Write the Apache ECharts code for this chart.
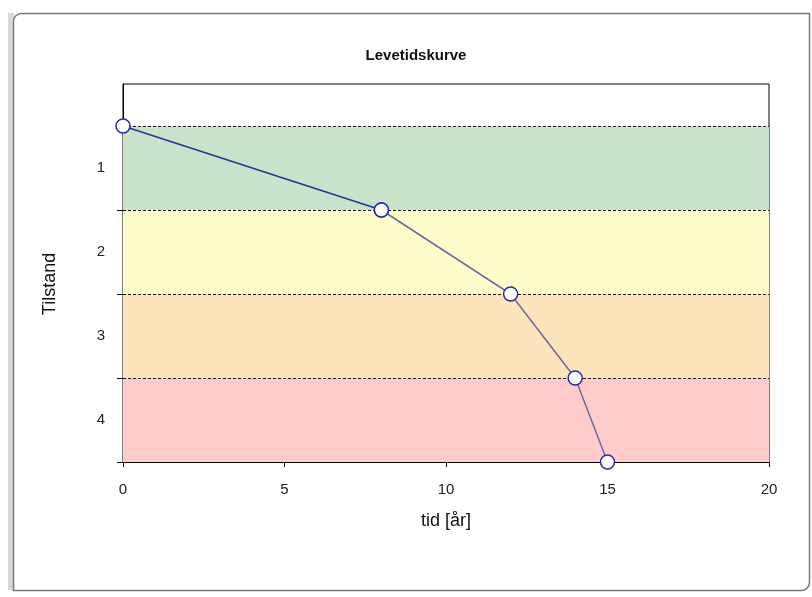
<!DOCTYPE html>
<html><head><meta charset="utf-8">
<script src="https://cdn.jsdelivr.net/npm/echarts@6/dist/echarts.min.js"></script>
<style>html,body{margin:0;padding:0;background:#fff}#c{width:812px;height:597px}</style>
</head><body><div id="c"></div>
<script>
const title = 'Levetidskurve';
const xName = 'tid [år]';
const yName = 'Tilstand';
const years = [0, 8, 12, 14, 15];
const condition = [0.5, 1.5, 2.5, 3.5, 4.5];
const stateLabels = [1, 2, 3, 4];
const bandEdges = [0.5, 1.5, 2.5, 3.5, 4.5];
const bandColors = ['#c9e3cc', '#fffccc', '#fde4bc', '#ffcccc'];
const xTicks = [0, 5, 10, 15, 20];

const pts = years.map((x, i) => [x, condition[i]]);
const seg1 = pts.slice(0, 2);
const seg2 = pts.slice(1);

const markAreaData = stateLabels.map((s, i) => [
  { yAxis: bandEdges[i], itemStyle: { color: bandColors[i] } },
  { yAxis: bandEdges[i + 1] }
]);
const markLineData = bandEdges.slice(0, 4).map(v => ({ yAxis: v }));

const chart = echarts.init(document.getElementById('c'), null, { renderer: 'canvas' });
const font = 'Liberation Sans, Arial, sans-serif';
const symStyle = { color: '#ffffff', borderColor: '#2b2b9c', borderWidth: 1.5 };
chart.setOption({
  animation: false,
  backgroundColor: '#ffffff',
  textStyle: { fontFamily: font },
  title: { text: title, left: 411, top: 43, textAlign: 'center',
    textStyle: { fontSize: 15, fontWeight: 'bold', color: '#111', fontFamily: font } },
  graphic: [
    { type: 'rect', shape: { x: 8, y: 13, width: 6, height: 577 }, style: { fill: '#d8d8d8' }, z: -10 },
    { type: 'rect', shape: { x: 13.5, y: 13.5, width: 796, height: 577, r: [8, 0, 8, 0] },
      style: { fill: 'none', stroke: '#7a7a7a', lineWidth: 1.5 }, z: -5 }
  ],
  grid: { left: 123, right: 43, top: 84, bottom: 135, show: true, borderColor: '#000', borderWidth: 1, backgroundColor: 'transparent' },
  xAxis: {
    type: 'value', min: 0, max: 20, interval: 5,
    name: xName, nameLocation: 'middle', nameGap: 50,
    nameTextStyle: { fontSize: 18, color: '#111', fontFamily: font },
    axisLine: { show: true, onZero: false, lineStyle: { color: '#000', width: 1 } },
    axisTick: { show: true, inside: false, length: 5, lineStyle: { color: '#000' } },
    axisLabel: { fontSize: 15, color: '#222', margin: 20, fontFamily: font },
    splitLine: { show: false }
  },
  yAxis: {
    type: 'value', min: 0, max: 4.5, inverse: true,
    name: yName, nameLocation: 'middle', nameRotate: 90, nameGap: 64,
    nameTextStyle: { fontSize: 18, color: '#111', fontFamily: font, padding: [0, 22, 0, 0] },
    axisLine: { show: true, onZero: false, lineStyle: { color: '#000', width: 1 } },
    axisTick: { show: true, length: 6, customValues: bandEdges.slice(1), lineStyle: { color: '#000' } },
    axisLabel: { fontSize: 15, color: '#222', margin: 18, customValues: stateLabels, fontFamily: font },
    splitLine: { show: false }
  },
  series: [
    {
      type: 'line', data: [], z: 1, silent: true,
      markArea: { silent: true, data: markAreaData },
      markLine: { silent: true, symbol: 'none', label: { show: false },
        lineStyle: { color: '#111', type: [3, 2], width: 1 }, data: markLineData }
    },
    {
      type: 'line', data: seg1, symbol: 'circle', symbolSize: 14,
      lineStyle: { color: '#1f3a8f', width: 1.5 }, itemStyle: symStyle, z: 6
    },
    {
      type: 'line', data: seg2, symbol: 'circle', symbolSize: 14,
      lineStyle: { color: '#6a6a9c', width: 1.5 }, itemStyle: symStyle, z: 5
    }
  ]
});
</script></body></html>
